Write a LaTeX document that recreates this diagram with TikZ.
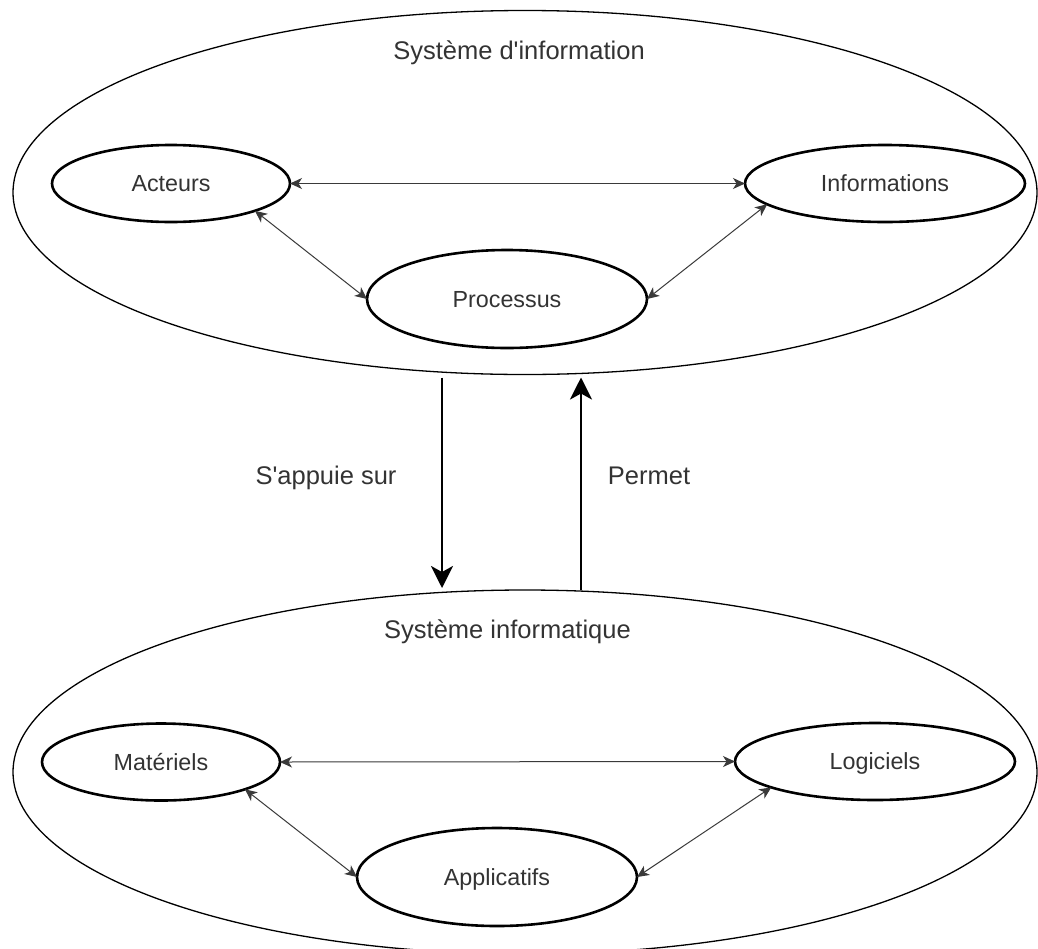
\documentclass[tikz,border=0pt]{standalone}
\usepackage{fontspec}
\setmainfont{Liberation Sans}[Ligatures=TeXOff]
\usetikzlibrary{shapes.geometric,arrows.meta,calc}
\definecolor{txt}{HTML}{333333}
\definecolor{linkc}{HTML}{3A3A3A}
\begin{document}
\begin{tikzpicture}[x=1pt,y=-1pt,
  outer/.style={ellipse, draw, line width=1.3pt, inner sep=0pt, outer sep=0pt,
                minimum width=1024pt, minimum height=364pt},
  part/.style={ellipse, draw, line width=2.6pt, inner sep=0pt, outer sep=0pt,
               text=txt, font=\fontsize{23.3}{28}\selectfont,
               text height=16.7pt, text depth=0pt},
  side/.style={part, minimum width=238pt, minimum height=77pt},
  wide/.style={part, minimum width=280pt, minimum height=77pt},
  core/.style={part, minimum width=280pt, minimum height=98pt},
  title/.style={text=txt, font=\fontsize{25.5}{30}\selectfont, anchor=base, inner sep=0pt},
  link/.style={draw=linkc, line width=1pt,
               >={Stealth[length=12pt,width=11pt,inset=3.5pt]}, <->},
  flow/.style={draw=black, line width=2.8pt,
               >={Stealth[length=22pt,width=22pt,inset=6pt]}, ->}
]
\useasboundingbox (0,0) rectangle (1038,948);
\fill[white] (0,0) rectangle (1038,948);

% Système d'information
\node[outer] (si) at (525,192.5) {};
\node[title] (sit) at (519,59) {Système d'information};
\node[side] (ac) at (171,183.5) {Acteurs};
\node[wide] (inf) at (885,183.5) {Informations};
\node[core] (pr) at (507,299) {Processus};

\draw[link] (ac.east) -- (inf.west);
\draw[link] (ac.-18) -- (pr.west);
\draw[link] (inf.190) -- (pr.east);

% Système informatique
\node[outer] (sq) at (525,772) {};
\node[title] (sqt) at (507.5,638) {Système informatique};
\node[side] (ma) at (161,762) {Matériels};
\node[wide] (lo) at (875,761.5) {Logiciels};
\node[core] (ap) at (497,877) {Applicatifs};

\draw[link] (ma.east) -- (lo.west);
\draw[link] (ma.-18) -- (ap.west);
\draw[link] (lo.194) -- (ap.east);

% Liens entre les deux systèmes
\coordinate (d1) at ($(si.south)+(-83,3)$);
\coordinate (d2) at ($(sq.north)+(-83,-2)$);
\coordinate (u1) at ($(sq.north)+(56,0)$);
\coordinate (u2) at ($(si.south)+(56,3)$);
\draw[flow] (d1) -- (d2);
\draw[flow] (u1) -- (u2);
\node[title] (lapp) at (326,484) {S'appuie sur};
\node[title] (lper) at (649,484) {Permet};
\end{tikzpicture}
\end{document}
